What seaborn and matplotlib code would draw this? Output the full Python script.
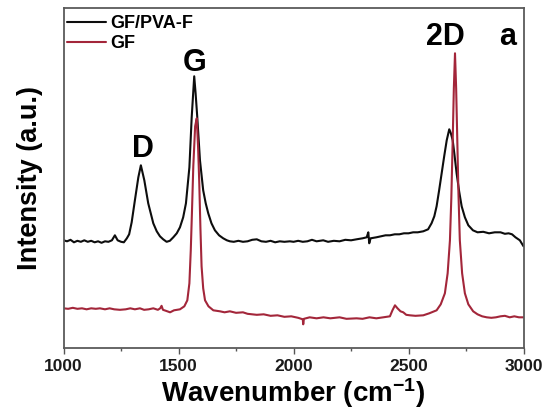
import matplotlib
matplotlib.use("Agg")

import matplotlib.pyplot as plt
import numpy as np
import pandas as pd
import seaborn as sns
from matplotlib.ticker import MultipleLocator

# Raman spectra (wavenumber in cm^-1, intensity in a.u.)
wavenumber_pva = [
    1000, 1015, 1030, 1045, 1060, 1075, 1090, 1105, 1120, 1135, 1150, 1165, 1180, 1195,
    1210, 1223, 1235, 1250, 1262, 1275, 1285, 1296, 1310, 1325, 1336, 1351, 1368, 1390,
    1405, 1419, 1433, 1448, 1462, 1477, 1492, 1506, 1520, 1532, 1547, 1557, 1568, 1574,
    1581, 1593, 1607, 1618, 1629, 1643, 1658, 1676, 1694, 1710, 1723, 1740, 1760, 1780,
    1800, 1820, 1840, 1860, 1880, 1900, 1920, 1940, 1960, 1984, 2000, 2020, 2040, 2060,
    2080, 2100, 2129, 2150, 2175, 2200, 2225, 2250, 2274, 2300, 2318, 2325, 2329, 2335,
    2360, 2380, 2400, 2419, 2440, 2460, 2480, 2500, 2520, 2540, 2564, 2585, 2600, 2612,
    2622, 2633, 2644, 2655, 2666, 2677, 2684, 2692, 2700, 2709, 2720, 2731, 2745, 2760,
    2780, 2800, 2825, 2850, 2875, 2900, 2919, 2935, 2950, 2965, 2984, 3000,
]
intensity_pva = [
    108, 107, 108.5, 106, 107.5, 106.5, 108, 106.5, 107.5, 106, 107, 105.5, 107, 106.5,
    108, 113, 108, 106.5, 106, 110, 114, 126, 148, 171, 183, 168, 145, 125,
    117, 112, 109, 106.5, 107.5, 111, 115, 121, 131, 145, 181, 231, 272, 255,
    232, 188, 158, 145, 135, 125, 118, 113, 110, 108, 107, 106.5, 107.5, 106.5,
    107, 108.5, 109, 107, 106.5, 107.5, 106, 107, 106.5, 107, 106.5, 107.5, 106.5, 107,
    108.5, 107, 108, 106.5, 107.5, 107, 108.5, 108, 109, 110, 111, 116, 105, 110,
    111, 112, 113, 113, 114, 114, 115, 115, 116, 116, 117, 119, 125, 132,
    142, 158, 175, 192, 208, 219, 215, 208, 193, 175, 157, 142, 131, 123,
    118, 116, 116.5, 115, 116, 116, 114.5, 115, 114, 111, 108, 102,
]

wavenumber_gf = [
    1000, 1020, 1040, 1060, 1080, 1100, 1120, 1140, 1158, 1180, 1200, 1220, 1245, 1270,
    1290, 1310, 1332, 1350, 1370, 1390, 1410, 1420, 1426, 1432, 1445, 1463, 1480, 1506,
    1525, 1538, 1547, 1553, 1558, 1564, 1572, 1579, 1585, 1590, 1595, 1600, 1607, 1615,
    1630, 1651, 1680, 1700, 1723, 1750, 1780, 1800, 1840, 1870, 1900, 1930, 1960, 1990,
    2020, 2040, 2042, 2045, 2070, 2100, 2130, 2160, 2200, 2230, 2274, 2300, 2330, 2360,
    2390, 2419, 2430, 2441, 2452, 2465, 2477, 2490, 2506, 2530, 2564, 2590, 2622, 2640,
    2658, 2670, 2680, 2686, 2692, 2697, 2702, 2707, 2712, 2717, 2723, 2733, 2745, 2760,
    2781, 2800, 2820, 2840, 2860, 2880, 2900, 2919, 2940, 2960, 2980, 3000,
]
intensity_gf = [
    40, 39.5, 40.5, 39.5, 40, 39, 40, 39.5, 40, 39, 40, 39, 38.5, 39,
    40, 39, 40, 38.5, 39, 40, 38.5, 40, 42.5, 38.5, 37.5, 36, 38, 39,
    42, 48, 65, 98, 135, 182, 222, 230, 200, 165, 120, 82, 60, 48,
    42, 38, 37, 36, 37, 35.5, 36, 34.5, 33.5, 34, 32.5, 33, 31.5, 32,
    30.5, 29, 24, 29.5, 31, 30, 31, 30, 31, 29.5, 30, 29.5, 31, 30,
    31, 32, 38, 43, 40, 37, 36, 33.5, 33, 32.5, 33, 35, 38, 44,
    55, 75, 108, 150, 208, 260, 295, 260, 208, 155, 108, 75, 55, 44,
    37, 34, 32, 31, 30.5, 31, 32, 32.5, 31, 32, 31, 31,
]

series_names = ["GF/PVA-F", "GF"]
series_colors = ["#0d0d0d", "#a3263a"]

df = pd.concat(
    [
        pd.DataFrame({"wavenumber": wavenumber_pva, "intensity": intensity_pva, "sample": series_names[0]}),
        pd.DataFrame({"wavenumber": wavenumber_gf, "intensity": intensity_gf, "sample": series_names[1]}),
    ],
    ignore_index=True,
)

sns.set_theme(style="white")
plt.rcParams["font.family"] = ["Liberation Sans", "DejaVu Sans"]
plt.rcParams["font.weight"] = "bold"
plt.rcParams["axes.labelweight"] = "bold"
plt.rcParams["text.color"] = "black"
plt.rcParams["axes.labelcolor"] = "black"
plt.rcParams["mathtext.fontset"] = "custom"
plt.rcParams["mathtext.rm"] = "Liberation Sans:bold"
plt.rcParams["mathtext.bf"] = "Liberation Sans:bold"
plt.rcParams["mathtext.default"] = "bf"

fig = plt.figure(figsize=(5.45, 4.18), dpi=100)
ax = fig.add_axes([0.1167, 0.1667, 0.8439, 0.8135])

sns.lineplot(
    data=df, x="wavenumber", y="intensity", hue="sample",
    hue_order=series_names, palette=series_colors,
    estimator=None, sort=False, linewidth=1.5, ax=ax,
)

ax.set_xlim(1000, 3000)
ax.set_ylim(0, 340)
ax.set_yticks([])
ax.xaxis.set_major_locator(MultipleLocator(500))
ax.xaxis.set_minor_locator(MultipleLocator(250))
ax.tick_params(axis="x", which="major", direction="out", length=4, width=1,
               color="#555555", labelsize=12.5, labelcolor="#1a1a1a", pad=3.5, bottom=True)
ax.tick_params(axis="x", which="minor", direction="out", length=2.5, width=1,
               color="#555555", bottom=True)
for spine in ax.spines.values():
    spine.set_color("#5a5a5a")
    spine.set_linewidth(1.3)

ax.set_xlabel("Wavenumber (cm$^{-1}$)", fontsize=20, labelpad=2)
ax.set_ylabel("Intensity (a.u.)", fontsize=19.5, labelpad=15)

# peak labels
ax.text(1343, 191.6, "D", fontsize=22, ha="center", va="baseline")
ax.text(1568, 277, "G", fontsize=22, ha="center", va="baseline")
ax.text(2658, 303.3, "2D", fontsize=22, ha="center", va="baseline")
ax.text(2930, 303.3, "a", fontsize=22, ha="center", va="baseline")

handles, labels = ax.get_legend_handles_labels()
ax.legend(handles, labels, loc="upper left", bbox_to_anchor=(0.007, 0.979),
          frameon=False, prop={"weight": "bold", "size": 13},
          handlelength=2.15, handletextpad=0.27, labelspacing=0.15,
          borderpad=0, borderaxespad=0)

fig.savefig("out.png", dpi=100)
